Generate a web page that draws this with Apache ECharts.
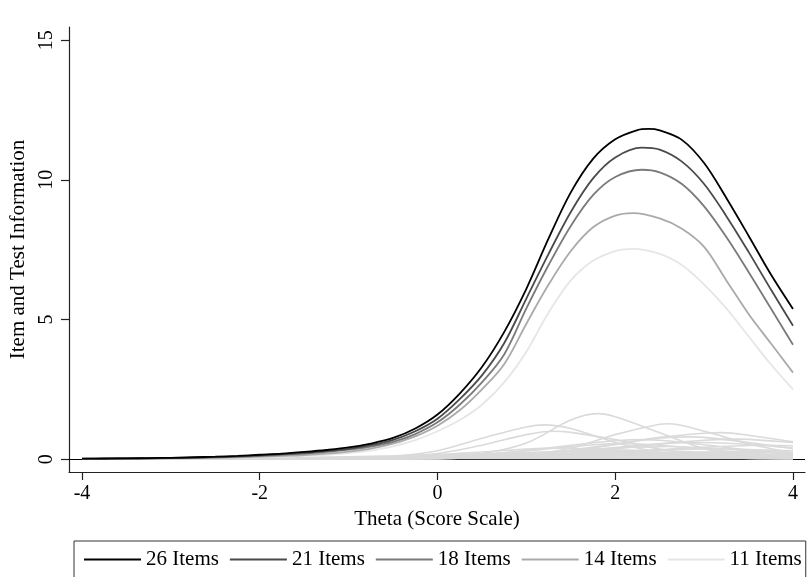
<!DOCTYPE html>
<html>
<head>
<meta charset="utf-8">
<script src="https://cdn.jsdelivr.net/npm/echarts@6/dist/echarts.min.js"></script>
<style>html,body{margin:0;padding:0;background:#fff;}#c{width:809px;height:577px;}</style>
</head>
<body>
<div id="c"></div>
<script>
// theta grid for test information curves
const thetaTest = [-4,-3.75,-3.5,-3.25,-3,-2.75,-2.5,-2.25,-2,-1.75,-1.5,-1.25,-1,-0.75,-0.5,-0.25,0,0.25,0.5,0.75,1,1.25,1.5,1.75,2,2.25,2.5,2.75,3,3.25,3.5,3.75,4];
// theta grid for item information curves
const thetaItem = [-4,-3.5,-3,-2.5,-2,-1.5,-1,-0.5,0,0.5,1,1.5,2,2.5,3,3.5,4];

const xTicks = [-4,-2,0,2,4];
const yTicks = [0,5,10,15];

const testNames = ['26 Items','21 Items','18 Items','14 Items','11 Items'];
const test26 = [0.02,0.025,0.03,0.04,0.05,0.07,0.09,0.12,0.16,0.2,0.26,0.33,0.42,0.56,0.76,1.1,1.6,2.35,3.3,4.55,6.1,7.9,9.55,10.75,11.45,11.78,11.77,11.43,10.6,9.35,8.0,6.62,5.38];
const test21 = [0.02,0.02,0.03,0.035,0.045,0.06,0.08,0.1,0.14,0.18,0.23,0.29,0.37,0.5,0.69,1.0,1.45,2.15,3.0,4.15,5.75,7.35,8.85,10.05,10.8,11.12,11.08,10.65,9.85,8.7,7.42,6.08,4.78];
const test18 = [0.015,0.02,0.025,0.03,0.04,0.05,0.07,0.09,0.12,0.16,0.2,0.26,0.34,0.45,0.62,0.9,1.32,1.95,2.75,3.75,5.4,6.95,8.35,9.45,10.1,10.33,10.27,9.85,9.05,7.95,6.7,5.4,4.1];
const test14 = [0.01,0.015,0.02,0.025,0.03,0.04,0.05,0.07,0.09,0.12,0.15,0.2,0.27,0.38,0.56,0.82,1.2,1.75,2.5,3.4,4.85,6.25,7.45,8.3,8.72,8.8,8.62,8.25,7.6,6.4,5.2,4.15,3.1];
const test11 = [0.01,0.01,0.015,0.02,0.025,0.03,0.04,0.05,0.07,0.09,0.12,0.16,0.22,0.31,0.46,0.68,1.0,1.4,1.95,2.75,3.85,5.25,6.4,7.1,7.45,7.52,7.35,6.95,6.25,5.4,4.4,3.4,2.5];
// peak location / height of each test information curve
const testPeakTheta = [2.375, 2.3, 2.3, 2.2, 2.2];
const testPeakInfo = [11.82, 11.15, 10.36, 8.81, 7.53];
const testColors = ['#000000','#4a4a4a','#7a7a7a','#aaaaaa','#e6e6e6'];

// item information curves (values at thetaItem)
const itemInfo = [
  [0,0,0,0,0,0,0.01,0.02,0.06,0.2,0.58,1.4,1.52,0.95,0.38,0.12,0.04],
  [0,0,0,0,0,0.01,0.03,0.1,0.3,0.75,1.15,1.1,0.6,0.25,0.09,0.03,0.01],
  [0,0,0,0,0,0.01,0.03,0.08,0.2,0.5,0.88,0.96,0.7,0.36,0.14,0.05,0.02],
  [0,0,0,0,0,0,0,0.01,0.02,0.06,0.15,0.4,0.88,1.25,1.0,0.55,0.22],
  [0,0,0,0,0,0,0.01,0.02,0.04,0.08,0.16,0.3,0.52,0.78,0.93,0.86,0.62],
  [0,0,0,0,0,0,0.01,0.02,0.04,0.08,0.17,0.33,0.55,0.76,0.78,0.6,0.38],
  [0,0,0,0,0,0,0,0.01,0.03,0.06,0.12,0.22,0.37,0.55,0.68,0.71,0.6],
  [0,0,0,0,0,0.01,0.02,0.04,0.08,0.16,0.3,0.5,0.66,0.68,0.52,0.32,0.17],
  [0,0,0,0,0,0.01,0.01,0.03,0.05,0.1,0.17,0.28,0.42,0.55,0.6,0.53,0.4],
  [0,0,0,0,0.01,0.01,0.03,0.05,0.1,0.18,0.3,0.45,0.55,0.5,0.36,0.22,0.12],
  [0,0,0,0,0,0,0.01,0.02,0.03,0.06,0.1,0.16,0.24,0.34,0.43,0.49,0.48],
  [0,0,0,0,0.01,0.01,0.02,0.04,0.07,0.12,0.2,0.3,0.4,0.45,0.41,0.31,0.21],
  [0,0,0,0.01,0.01,0.02,0.05,0.09,0.16,0.26,0.36,0.39,0.33,0.23,0.14,0.08,0.04],
  [0,0,0,0,0,0.01,0.02,0.03,0.05,0.09,0.14,0.2,0.27,0.33,0.37,0.35,0.3],
  [0,0,0.01,0.01,0.01,0.02,0.04,0.06,0.1,0.15,0.22,0.28,0.32,0.3,0.25,0.18,0.12],
  [0,0,0,0,0,0,0.01,0.02,0.03,0.05,0.08,0.11,0.15,0.2,0.24,0.28,0.3],
  [0,0,0.01,0.01,0.02,0.03,0.05,0.08,0.12,0.18,0.24,0.27,0.26,0.21,0.16,0.11,0.07],
  [0,0,0,0.01,0.01,0.02,0.03,0.04,0.06,0.09,0.12,0.16,0.2,0.23,0.25,0.25,0.23],
  [0,0.01,0.01,0.01,0.02,0.03,0.04,0.06,0.08,0.12,0.15,0.19,0.21,0.22,0.2,0.17,0.14],
  [0.01,0.01,0.02,0.03,0.04,0.06,0.09,0.12,0.16,0.19,0.2,0.18,0.15,0.12,0.09,0.06,0.04],
  [0,0,0,0.01,0.01,0.02,0.03,0.04,0.05,0.07,0.09,0.11,0.13,0.15,0.17,0.18,0.18],
  [0.01,0.01,0.01,0.02,0.02,0.03,0.04,0.05,0.06,0.08,0.1,0.12,0.13,0.14,0.14,0.13,0.12],
  [0.01,0.01,0.02,0.02,0.03,0.04,0.05,0.07,0.08,0.1,0.11,0.12,0.12,0.11,0.1,0.08,0.07],
  [0.01,0.02,0.02,0.03,0.03,0.04,0.05,0.05,0.06,0.07,0.07,0.08,0.08,0.08,0.08,0.07,0.07],
  [0.01,0.01,0.02,0.02,0.02,0.03,0.03,0.03,0.04,0.04,0.05,0.05,0.05,0.05,0.05,0.05,0.05],
  [0.01,0.01,0.01,0.01,0.02,0.02,0.02,0.02,0.02,0.03,0.03,0.03,0.03,0.03,0.03,0.03,0.03]
];
// peak location / height of each item information curve
const itemPeakTheta = [1.8,1.2,1.3,2.6,3.2,2.85,3.4,2.3,3.0,2.05,3.7,2.6,1.3,3.1,2.1,4.0,1.6,3.25,2.5,1.0,3.75,2.75,1.75,2.25,2.5,2.5];
const itemPeakInfo  = [1.63,1.23,1.0,1.27,0.95,0.8,0.72,0.7,0.6,0.56,0.5,0.455,0.4,0.375,0.325,0.3,0.275,0.255,0.22,0.2,0.18,0.14,0.12,0.08,0.05,0.03];
const itemColor = '#dadada';

// merge a curve's grid values with its peak point
function withPeak(grid, vals, pt, pv) {
  const pts = [];
  grid.forEach((t, i) => { if (Math.abs(t - pt) > 0.06) pts.push([t, vals[i]]); });
  pts.push([pt, pv]);
  pts.sort((a, b) => a[0] - b[0]);
  return pts;
}

const FONT = 'Liberation Serif';
const chart = echarts.init(document.getElementById('c'), null, {renderer: 'canvas'});

const series = [];
itemInfo.forEach((vals, k) => {
  const s = {
    type: 'line',
    name: 'item' + (k + 1),
    data: withPeak(thetaItem, vals, itemPeakTheta[k], itemPeakInfo[k]),
    smooth: 0.33,
    symbol: 'none',
    silent: true,
    lineStyle: {color: itemColor, width: 1.6},
    z: 2
  };
  if (k === 0) {
    s.markLine = {
      silent: true,
      symbol: 'none',
      label: {show: false},
      lineStyle: {color: '#000', width: 1, type: 'solid'},
      data: [{yAxis: 0}],
      z: 1
    };
  }
  series.push(s);
});
const testVals = [test26, test21, test18, test14, test11];
for (let k = testVals.length - 1; k >= 0; k--) {
  series.push({
    type: 'line',
    name: testNames[k],
    data: withPeak(thetaTest, testVals[k], testPeakTheta[k], testPeakInfo[k]),
    smooth: 0.33,
    symbol: 'none',
    lineStyle: {color: testColors[k], width: 1.8},
    itemStyle: {color: testColors[k]},
    z: 3
  });
}

chart.setOption({
  animation: false,
  backgroundColor: '#fff',
  grid: {left: 68, top: 27, width: 737, height: 445, containLabel: false},
  xAxis: {
    type: 'value',
    min: -4.146, max: 4.135,
    name: 'Theta (Score Scale)',
    nameLocation: 'middle',
    nameGap: 29,
    nameTextStyle: {fontFamily: FONT, fontSize: 21, color: '#000'},
    axisLine: {show: true, onZero: false, lineStyle: {color: '#222', width: 1.2}},
    axisTick: {show: true, length: 8, customValues: xTicks, lineStyle: {color: '#222', width: 1.2}},
    axisLabel: {customValues: xTicks, fontFamily: FONT, fontSize: 20, color: '#000', margin: 12},
    splitLine: {show: false}
  },
  yAxis: {
    type: 'value',
    min: -0.458, max: 15.47,
    name: 'Item and Test Information',
    nameLocation: 'middle',
    nameRotate: 90,
    nameGap: 40,
    nameTextStyle: {fontFamily: FONT, fontSize: 21, color: '#000'},
    axisLine: {show: true, onZero: false, lineStyle: {color: '#222', width: 1.2}},
    axisTick: {show: true, length: 8, customValues: yTicks, lineStyle: {color: '#222', width: 1.2}},
    axisLabel: {customValues: yTicks, rotate: 90, fontFamily: FONT, fontSize: 20, color: '#000', margin: 12},
    splitLine: {show: false}
  },
  legend: {
    data: testNames,
    left: 74,
    top: 541,
    orient: 'horizontal',
    icon: 'rect',
    itemWidth: 57,
    itemHeight: 2,
    itemGap: 11,
    padding: [8, 4, 40, 10],
    borderColor: '#333',
    borderWidth: 1,
    textStyle: {fontFamily: FONT, fontSize: 21, color: '#000'},
    selectedMode: false
  },
  series: series
});
</script>
</body>
</html>
